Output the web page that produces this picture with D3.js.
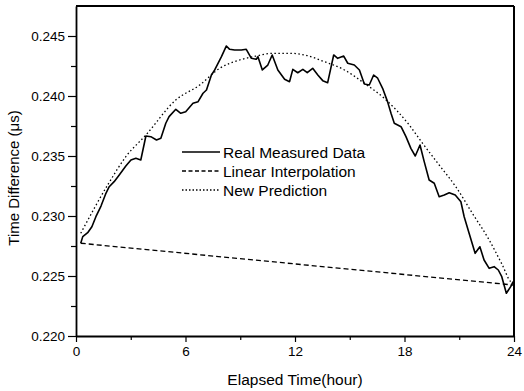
<!DOCTYPE html>
<html>
<head>
<meta charset="utf-8">
<script src="https://cdn.jsdelivr.net/npm/d3@7"></script>
<style>
  body { margin: 0; background: #fff; }
  svg { display: block; font-family: "Liberation Sans", Arial, sans-serif; }
</style>
</head>
<body>
<div id="chart"></div>
<script>
// measured curve (hour, microseconds)
var measuredHours = [0.26,0.37,0.64,0.87,1.09,1.37,1.64,1.82,2.09,2.37,2.73,3.01,3.28,3.55,3.83,4.10,4.41,4.65,4.92,5.10,5.47,5.74,6.01,6.14,6.41,6.69,6.96,7.15,7.42,7.60,7.97,8.24,8.42,8.69,9.06,9.33,9.61,9.88,9.97,10.21,10.51,10.75,11.06,11.43,11.70,11.88,12.15,12.43,12.67,12.97,13.25,13.52,13.79,14.12,14.34,14.67,14.89,15.25,15.53,15.80,16.07,16.31,16.53,16.80,17.07,17.26,17.44,17.81,18.08,18.35,18.59,18.85,19.08,19.35,19.63,19.90,20.18,20.45,20.78,21.09,21.27,21.54,21.87,22.13,22.36,22.64,22.91,23.14,23.33,23.58,23.82,23.95];
var measuredValues = [0.22773,0.22828,0.22861,0.22911,0.22994,0.23083,0.23189,0.23244,0.23286,0.23342,0.23417,0.23467,0.23481,0.23467,0.23667,0.23661,0.23633,0.23648,0.23773,0.23828,0.23889,0.23856,0.23869,0.23892,0.23939,0.23953,0.24023,0.24050,0.24175,0.24217,0.24328,0.24417,0.24389,0.24383,0.24383,0.24389,0.24314,0.24306,0.24328,0.24217,0.24258,0.24342,0.24217,0.24139,0.24119,0.24222,0.24194,0.24222,0.24194,0.24231,0.24175,0.24128,0.24111,0.24342,0.24314,0.24333,0.24273,0.24258,0.24217,0.24100,0.24092,0.24175,0.24148,0.24064,0.23953,0.23856,0.23773,0.23744,0.23661,0.23564,0.23500,0.23592,0.23453,0.23300,0.23273,0.23161,0.23175,0.23194,0.23175,0.23119,0.22994,0.22856,0.22689,0.22744,0.22633,0.22564,0.22578,0.22550,0.22494,0.22356,0.22411,0.22453];

var linearHours = [0.26, 23.95];
var linearValues = [0.22773, 0.22425];

var predHours = [0.26,1.80,2.73,3.83,5.47,6.78,7.87,8.97,9.88,10.79,11.70,12.52,13.61,14.71,15.80,16.89,18.26,18.99,19.90,20.81,21.72,22.64,23.36,23.82,23.95];
var predValues = [0.22856,0.23275,0.23494,0.23675,0.23967,0.24092,0.24231,0.24300,0.24333,0.24356,0.24356,0.24342,0.24286,0.24217,0.24106,0.23981,0.23758,0.23606,0.23425,0.23244,0.23022,0.22800,0.22592,0.22453,0.22442];

var xTicks = [0, 6, 12, 18, 24];
var yTicks = [0.220, 0.225, 0.230, 0.235, 0.240, 0.245];
var legendNames = ["Real Measured Data", "Linear Interpolation", "New Prediction"];

var W = 524, H = 391;
var margin = {top: 6, right: 10, bottom: 55, left: 76};

var svg = d3.select("#chart").append("svg")
    .attr("width", W)
    .attr("height", H);

var x = d3.scaleLinear().domain([0, 24]).range([margin.left, W - margin.right]);
var y = d3.scaleLinear().domain([0.220, 0.2475]).range([H - margin.bottom, margin.top]);

function zip(xs, ys) { return xs.map(function(d, i) { return [d, ys[i]]; }); }

// x axis (major + minor ticks)
svg.append("g")
    .attr("transform", "translate(0," + y(0.220) + ")")
    .call(d3.axisBottom(x).tickValues(d3.range(3, 24, 6)).tickSize(4).tickFormat(""))
    .call(function(g) { g.select(".domain").remove(); });
var gx = svg.append("g")
    .attr("transform", "translate(0," + y(0.220) + ")")
    .call(d3.axisBottom(x).tickValues(xTicks).tickSize(6).tickSizeOuter(0).tickPadding(4));
gx.select(".domain").attr("stroke-width", 1.8);

// y axis
svg.append("g")
    .attr("transform", "translate(" + x(0) + ",0)")
    .call(d3.axisLeft(y).tickValues(d3.range(0.2225, 0.2475, 0.005)).tickSize(5).tickFormat(""))
    .call(function(g) { g.select(".domain").remove(); });
var gy = svg.append("g")
    .attr("transform", "translate(" + x(0) + ",0)")
    .call(d3.axisLeft(y).tickValues(yTicks).tickSize(8).tickSizeOuter(0).tickPadding(3).tickFormat(d3.format(".3f")));
gy.select(".domain").attr("stroke-width", 1.8);

svg.selectAll(".tick line").attr("stroke", "#000").attr("stroke-width", 1.2);
svg.selectAll(".tick text").attr("font-size", 13.5).attr("fill", "#000").attr("font-family", "Liberation Sans, Arial, sans-serif");

// top and right frame
svg.append("line").attr("x1", x(0)).attr("x2", x(24)).attr("y1", y(0.2475)).attr("y2", y(0.2475))
    .attr("stroke", "#000").attr("stroke-width", 2);
svg.append("line").attr("x1", x(24)).attr("x2", x(24)).attr("y1", y(0.2475)).attr("y2", y(0.220))
    .attr("stroke", "#000").attr("stroke-width", 2);

var line = d3.line().x(function(d) { return x(d[0]); }).y(function(d) { return y(d[1]); });
var smooth = d3.line().curve(d3.curveMonotoneX).x(function(d) { return x(d[0]); }).y(function(d) { return y(d[1]); });

svg.append("path").datum(zip(linearHours, linearValues))
    .attr("d", line).attr("fill", "none").attr("stroke", "#000")
    .attr("stroke-width", 1.3).attr("stroke-dasharray", "5,3");

svg.append("path").datum(zip(predHours, predValues))
    .attr("d", smooth).attr("fill", "none").attr("stroke", "#000")
    .attr("stroke-width", 1.3).attr("stroke-dasharray", "1.5,2.5");

svg.append("path").datum(zip(measuredHours, measuredValues))
    .attr("d", line).attr("fill", "none").attr("stroke", "#000")
    .attr("stroke-width", 1.6).attr("stroke-linejoin", "round");

// legend
var dashes = ["none", "4,2.5", "1.5,2"];
var lg = svg.append("g").attr("transform", "translate(182,152)");
legendNames.forEach(function(name, i) {
  lg.append("line").attr("x1", 0).attr("x2", 38).attr("y1", i * 19).attr("y2", i * 19)
      .attr("stroke", "#000").attr("stroke-width", 1.4).attr("stroke-dasharray", dashes[i]);
  lg.append("text").attr("x", 41).attr("y", i * 19 + 5.5)
      .attr("font-size", 15.5).text(name);
});

// axis titles
svg.append("text")
    .attr("x", (x(0) + x(24)) / 2).attr("y", 385)
    .attr("text-anchor", "middle").attr("font-size", 15.5)
    .text("Elapsed Time(hour)");
svg.append("text")
    .attr("transform", "translate(19,178) rotate(-90)")
    .attr("text-anchor", "middle").attr("font-size", 15)
    .text("Time Difference (μs)");
</script>
</body>
</html>
